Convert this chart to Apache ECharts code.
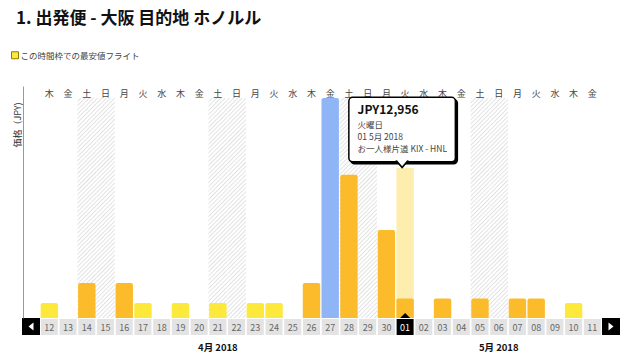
<!DOCTYPE html>
<html><head><meta charset="utf-8">
<script src="https://cdn.jsdelivr.net/npm/echarts@6/dist/echarts.min.js"></script>
<style>html,body{margin:0;padding:0;background:#fff}#c{width:640px;height:359px}</style>
</head><body><div id="c"></div>
<script>
// ---- data ----
const dates = ['12','13','14','15','16','17','18','19','20','21','22','23','24','25','26','27','28','29','30',
               '01','02','03','04','05','06','07','08','09','10','11'];
const weekdays = ['木','金','土','日','月','火','水','木','金','土','日','月','火','水','木','金','土','日','月',
                  '火','水','木','金','土','日','月','火','水','木','金'];
const monthLabels = ['4月 2018', '5月 2018'];
const monthOfDay = [0,0,0,0,0,0,0,0,0,0,0,0,0,0,0,0,0,0,0, 1,1,1,1,1,1,1,1,1,1,1];
const prices = [9900,null,23200,null,23200,9900,null,9900,null,9900,null,9900,9900,null,23200,146000,95000,null,58400,
                12956,null,12956,null,12956,null,12956,12956,null,9900,null];
const kinds  = ['cheap',null,'normal',null,'normal','cheap',null,'cheap',null,'cheap',null,'cheap','cheap',null,'normal','selected','normal',null,'normal',
                'normal',null,'normal',null,'normal',null,'normal','normal',null,'cheap',null];
const selectedDate = '01';
const hoverBandValue = 99500;
const fareNote = 'お一人様片道';
const route = 'KIX - HNL';
const currency = 'JPY';
const legendName = 'この時間枠での最安値フライト';
const titleText = '1. 出発便 - 大阪 目的地 ホノルル';
const yName = '価格（JPY)';

// ---- build ----
const FONT = "'Noto Sans CJK JP', 'Noto Sans', sans-serif";
const colors = {cheap:'#fde93c', normal:'#fbbb2b', selected:'#8fb5f7'};
const chart = echarts.init(document.getElementById('c'), null, {renderer:'svg'});
const maxPrice = Math.max(...prices.filter(v => v != null));
const selIdx = dates.indexOf(selectedDate);

const monthCenter = {};
monthLabels.forEach((m, mi) => {
  const idx = monthOfDay.map((v, i) => v === mi ? i : -1).filter(i => i >= 0);
  monthCenter[Math.round((idx[0] + idx[idx.length - 1]) / 2)] = m;
});

const mainData = prices.map((v, i) => v == null ? null : {value: v, itemStyle: {color: colors[kinds[i]]}});
const weekendData = weekdays.map(w => (w === '土' || w === '日') ? maxPrice : null);
const tipText = '{a|' + currency + prices[selIdx].toLocaleString('en-US') + '}\n' +
  '{b|' + weekdays[selIdx] + '曜日}\n' +
  '{b|' + dates[selIdx] + ' ' + monthLabels[monthOfDay[selIdx]] + '}\n' +
  '{b|' + fareNote + ' ' + route + '}';
const bandData = dates.map((d, i) => i === selIdx ? {
  value: hoverBandValue,
  label: {
    show: true, position: 'top', distance: 7, offset: [-3, 0],
    formatter: tipText,
    backgroundColor: '#fff', borderColor: '#000', borderWidth: 1.5, borderRadius: 3,
    shadowColor: '#000', shadowOffsetX: 2, shadowOffsetY: 2, shadowBlur: 0,
    padding: [0, 8, 7, 8], width: 89, align: 'center',
    rich: {
      a: {fontFamily: FONT, fontSize: 12, fontWeight: 'bold', color: '#111', lineHeight: 20, align: 'left', width: 89},
      b: {fontFamily: FONT, fontSize: 8.5, color: '#444', lineHeight: 12, align: 'left', width: 89}
    }
  }
} : null);

const cellBase = {width: 17, height: 16, lineHeight: 16, align: 'center', fontSize: 9, fontFamily: FONT};

chart.setOption({
  animation: false,
  textStyle: {fontFamily: FONT},
  title: {text: titleText, left: 11, top: 3,
    textStyle: {fontFamily: FONT, fontSize: 17, fontWeight: 'bold', color: '#111'}},
  legend: {left: 11, top: 51, padding: 0, icon: 'rect', itemWidth: 7, itemHeight: 7, data: [legendName],
    itemStyle: {borderColor: '#8c7d00', borderWidth: 1},
    textStyle: {fontFamily: FONT, fontSize: 8.5, color: '#444', padding: [0,0,0,-3]}},
  grid: {left: 40, right: 38.3, top: 87, bottom: 41},
  xAxis: [
    {type: 'category', position: 'bottom', data: dates,
     axisLine: {show: false}, axisTick: {show: false},
     axisLabel: {interval: 0, margin: 1, hideOverlap: false,
       formatter: v => v === selectedDate ? '{s|' + v + '}' : '{n|' + v + '}',
       rich: {
         n: Object.assign({}, cellBase, {backgroundColor: '#e3e3e3', color: '#666'}),
         s: Object.assign({}, cellBase, {backgroundColor: '#000', color: '#fff'})
       }}},
    {type: 'category', position: 'top', data: dates,
     axisLine: {show: false}, axisTick: {show: false},
     axisLabel: {interval: 0, inside: true, margin: 2, hideOverlap: false,
       formatter: (v, i) => weekdays[i], fontSize: 9, color: '#444', fontFamily: FONT}},
    {type: 'category', position: 'bottom', offset: 24, data: dates,
     axisLine: {show: false}, axisTick: {show: false},
     axisLabel: {interval: 0, margin: 0, hideOverlap: false,
       formatter: (v, i) => monthCenter[i] || '', fontSize: 9.5, fontWeight: 'bold', color: '#111', fontFamily: FONT}}
  ],
  yAxis: [{type: 'value', min: 0, max: v => v.max * 1.05, offset: 17,
    axisLine: {show: true, lineStyle: {color: '#999', width: 1}},
    axisTick: {show: false}, axisLabel: {show: false}, splitLine: {show: false}}],
  series: [
    {type: 'bar', name: 'weekend', xAxisIndex: 1, yAxisIndex: 0, barWidth: '100%', silent: true, z: 1,
     data: weekendData,
     itemStyle: {color: '#fff', decal: {symbol: 'rect', symbolSize: 1, color: '#e2e2e2',
       dashArrayX: [1, 0], dashArrayY: [1, 2], rotation: -Math.PI / 4}}},
    {type: 'bar', name: 'hover', xAxisIndex: 0, yAxisIndex: 0, barCategoryGap: '7%', barGap: '-100%', z: 2,
     data: bandData, itemStyle: {color: '#fdeeb0'},
     markPoint: {symbol: 'path://M0,0 L5,6 L10,0', symbolSize: [12, 7], symbolOffset: [-3, -4],
       itemStyle: {color: '#fff', borderColor: '#000', borderWidth: 1.5},
       label: {show: false}, data: [{coord: [selIdx, hoverBandValue]}]}},
    {type: 'bar', name: legendName, xAxisIndex: 0, yAxisIndex: 0, barCategoryGap: '7%', barGap: '-100%', z: 3,
     data: mainData, itemStyle: {color: colors.cheap, borderRadius: [2, 2, 0, 0]},
     markPoint: {symbol: 'triangle', symbolSize: [10, 5], symbolOffset: [0, -2.5],
       itemStyle: {color: '#000'}, label: {show: false}, data: [{coord: [selIdx, 0]}]}}
  ],
  graphic: [
    {type: 'rect', shape: {x: 22, y: 318, width: 18, height: 17}, style: {fill: '#000'}},
    {type: 'polygon', shape: {points: [[33.5, 322.5], [33.5, 330.5], [28.5, 326.5]]}, style: {fill: '#fff'}},
    {type: 'rect', shape: {x: 602, y: 318, width: 18, height: 17}, style: {fill: '#000'}},
    {type: 'polygon', shape: {points: [[608.5, 322.5], [608.5, 330.5], [613.5, 326.5]]}, style: {fill: '#fff'}},
    {type: 'text', x: 17, y: 125, rotation: Math.PI / 2,
     style: {text: yName, fontSize: 9, fill: '#333', align: 'center', verticalAlign: 'middle', fontFamily: FONT}}
  ]
});
</script></body></html>
